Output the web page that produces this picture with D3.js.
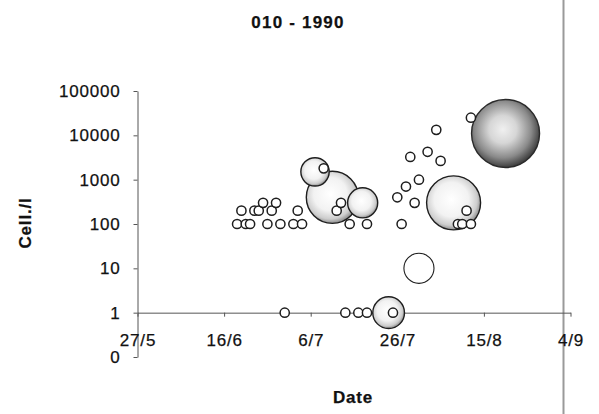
<!DOCTYPE html>
<html>
<head>
  <meta charset="utf-8">
  <title>010 - 1990</title>
  <style>
    body { margin: 0; background: #fff; }
    text { font-family: "Liberation Sans", Arial, sans-serif; fill: #111; stroke: #111; stroke-width: 0.25px; }
  </style>
</head>
<body>

  <script src="https://cdn.jsdelivr.net/npm/d3@7"></script>
  <script type="text/javascript">

  // --- data ---
  var year = 1990;

  var xTicks  = ['27/5', '16/6', '6/7', '26/7', '15/8', '4/9'];
  var yTicks  = [0.1, 1, 10, 100, 1000, 10000, 100000];
  var yLabels = ['0', '1', '10', '100', '1000', '10000', '100000'];

  // shaded series (small samples and the pale bubbles)
  var lightDates = ['19/6', '21/6', '22/6', '26/6', '29/6', '2/7', '4/7', '15/7', '19/7', '27/7', '9/8', '10/8', '12/8',
                    '20/6', '23/6', '24/6', '27/6', '3/7', '12/7', '11/8',
                    '25/6', '28/6', '13/7', '30/7',
                    '30/6', '14/7', '17/7', '19/7', '25/7',
                    '9/7', '4/8', '29/7', '2/8', '5/8', '31/7', '28/7', '26/7', '12/8',
                    '7/7', '11/7', '18/7', '8/8', '24/7'];
  var lightCells = [100, 100, 100, 100, 100, 100, 100, 100, 100, 100, 100, 100, 100,
                    200, 200, 200, 200, 200, 200, 200,
                    300, 300, 300, 300,
                    1, 1, 1, 1, 1,
                    1800, 13300, 3250, 4250, 2650, 1000, 700, 400, 25000,
                    1500, 400, 300, 300, 1];
  var lightSizes = [1, 1, 1, 1, 1, 1, 1, 1, 1, 1, 1, 1, 1,
                    1, 1, 1, 1, 1, 1, 1,
                    1, 1, 1, 1,
                    1, 1, 1, 1, 1,
                    1, 1, 1, 1, 1, 1, 1, 1, 1,
                    8, 27, 9, 29, 10];

  // dark series
  var darkDates = ['20/8'];
  var darkCells = [11000];
  var darkSizes = [46];

  // clear series
  var clearDates = ['31/7'];
  var clearCells = [10];
  var clearSizes = [9];

  // --- layout ---
  var width = 599, height = 414,
      parse = d3.timeParse('%d/%m/%Y'),
      date  = function(s){ return parse(s + '/' + year) };

  var svg = d3.select('body')
              .append('svg')
              .attr('width', width)
              .attr('height', height);

  var x = d3.scaleTime()
            .domain([date(xTicks[0]), date(xTicks[xTicks.length - 1])])
            .range([137.5, 570.5]);

  var y = d3.scaleLog()
            .domain([0.1, 100000])
            .range([357, 91]);

  var r = d3.scaleSqrt()
            .domain([0, 46])
            .range([0, 34]);

  // gradients for the 3d-ish bubbles
  var defs = svg.append('defs');

  function gradient(id, stops){
    var g = defs.append('radialGradient')
                .attr('id', id)
                .attr('cx', '46%').attr('cy', '44%').attr('r', '58%');
    stops.forEach(function(s){
      g.append('stop').attr('offset', s[0]).attr('stop-color', s[1]);
    });
  }
  gradient('light', [['0%', '#ffffff'], ['55%', '#f2f2f2'], ['82%', '#cdcdcd'], ['100%', '#7e7e7e']]);
  gradient('dark',  [['0%', '#f0f0f0'], ['35%', '#d6d6d6'], ['72%', '#8a8a8a'], ['100%', '#333333']]);

  function zip(dates, cells, sizes, kind){
    return dates.map(function(d, i){
      return { date: date(d), cells: cells[i], size: sizes[i], kind: kind };
    });
  }

  var points = []
    .concat(zip(lightDates, lightCells, lightSizes, 'light'))
    .concat(zip(darkDates, darkCells, darkSizes, 'dark'))
    .concat(zip(clearDates, clearCells, clearSizes, 'clear'))
    .sort(function(a, b){ return b.size - a.size });

  // frame line on the right
  svg.append('line')
     .attr('x1', 563.5).attr('x2', 563.5)
     .attr('y1', 0).attr('y2', height)
     .attr('stroke', '#9a9a9a')
     .attr('stroke-width', 2);

  // axes
  var yAxis = d3.axisLeft(y)
                .tickValues(yTicks)
                .tickFormat(function(d, i){ return yLabels[i] })
                .tickSize(4)
                .tickSizeOuter(0)
                .tickPadding(13);

  var xAxis = d3.axisBottom(x)
                .tickValues(xTicks.map(date))
                .tickFormat(function(d, i){ return xTicks[i] })
                .tickSize(4)
                .tickSizeOuter(0)
                .tickPadding(17);

  var gy = svg.append('g')
              .attr('transform', 'translate(' + x.range()[0] + ',0)')
              .call(yAxis);

  var gx = svg.append('g')
              .attr('transform', 'translate(0,' + y(1) + ')')
              .call(xAxis);

  [gx, gy].forEach(function(g){
    g.selectAll('path, line').attr('stroke', '#555');
    g.selectAll('text')
     .style('font-size', '17px')
     .style('letter-spacing', '0.8px')
     .attr('fill', '#111');
  });

  // bubbles
  svg.append('g')
     .selectAll('circle')
     .data(points)
     .enter()
     .append('circle')
     .attr('cx', function(d){ return x(d.date) })
     .attr('cy', function(d){ return y(d.cells) })
     .attr('r',  function(d){ return d.size > 1 ? r(d.size) : 4.6 })
     .attr('fill', function(d){
       if (d.kind === 'clear' || d.size === 1) return '#fff';
       return 'url(#' + d.kind + ')';
     })
     .attr('stroke', function(d){ return d.kind === 'dark' ? '#2a2a2a' : '#1e1e1e' })
     .attr('stroke-width', function(d){ return d.size === 1 ? 1.5 : (d.kind === 'clear' ? 1.1 : 1.4) });

  // titles
  svg.append('text')
     .attr('x', 298).attr('y', 28)
     .attr('text-anchor', 'middle')
     .style('font-size', '17px')
     .style('font-weight', 'bold')
     .style('letter-spacing', '1.2px')
     .text('010 - 1990');

  svg.append('text')
     .attr('x', 353).attr('y', 403)
     .attr('text-anchor', 'middle')
     .style('font-size', '17px')
     .style('font-weight', 'bold')
     .style('letter-spacing', '0.8px')
     .text('Date');

  svg.append('text')
     .attr('transform', 'translate(31,223) rotate(-90)')
     .attr('text-anchor', 'middle')
     .style('font-size', '17px')
     .style('font-weight', 'bold')
     .style('letter-spacing', '0.8px')
     .text('Cell./l');

  </script>
</body>
</html>
